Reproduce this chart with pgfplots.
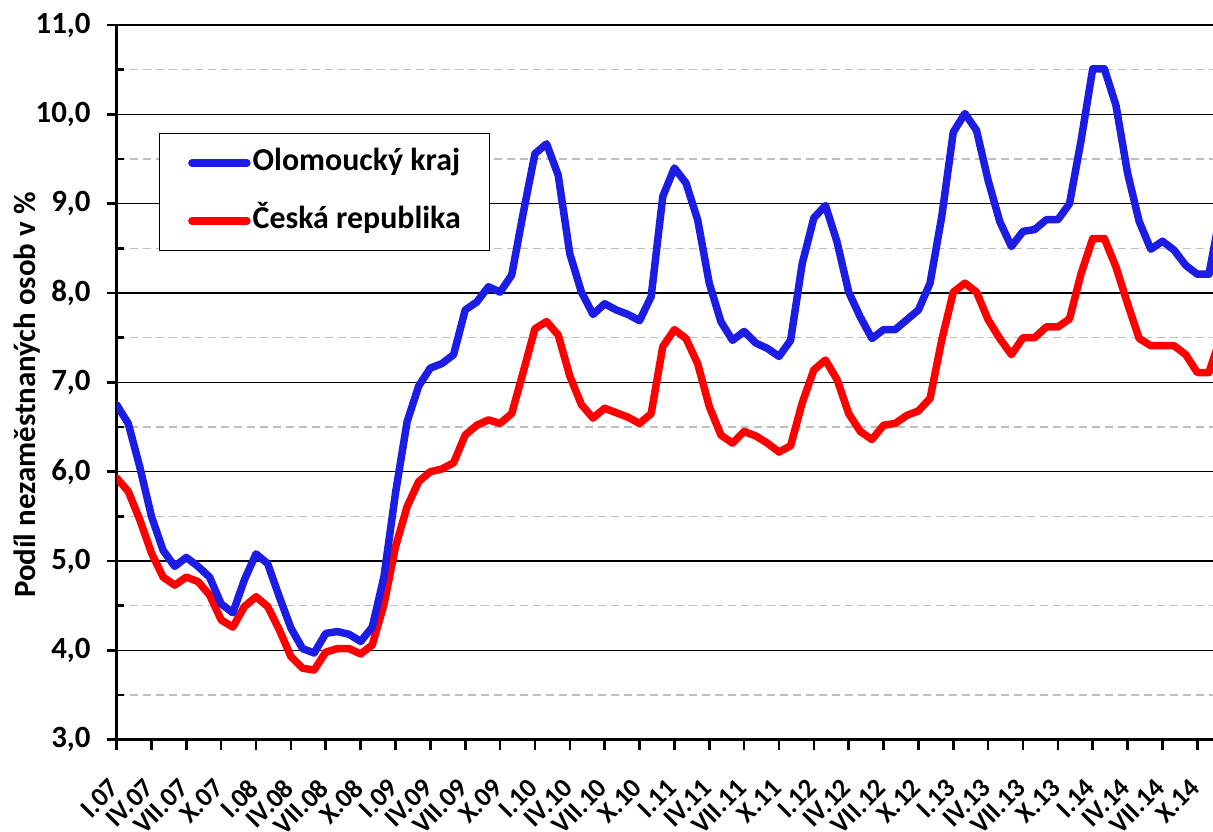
\documentclass[border=0pt]{standalone}
\usepackage{fontspec}
\setmainfont{Carlito}
\usepackage{pgfplots}
\usepackage{pgfplotstable}
\pgfplotsset{compat=1.18}
\definecolor{cblue}{RGB}{28,28,228}
\definecolor{cred}{RGB}{255,0,0}
\definecolor{cgrid}{RGB}{190,190,190}

\pgfplotstableread{
x o c
0 6.75 5.93
1 6.54 5.78
2 6.05 5.46
3 5.50 5.09
4 5.12 4.82
5 4.94 4.73
6 5.04 4.82
7 4.94 4.77
8 4.82 4.62
9 4.52 4.34
10 4.42 4.26
11 4.79 4.49
12 5.08 4.60
13 4.97 4.49
14 4.60 4.23
15 4.25 3.93
16 4.02 3.80
17 3.97 3.78
18 4.19 3.98
19 4.21 4.02
20 4.18 4.02
21 4.10 3.96
22 4.26 4.06
23 4.82 4.51
24 5.76 5.16
25 6.56 5.61
26 6.96 5.89
27 7.16 6.00
28 7.21 6.03
29 7.31 6.10
30 7.81 6.41
31 7.90 6.52
32 8.07 6.58
33 8.01 6.54
34 8.20 6.65
35 8.90 7.12
36 9.56 7.60
37 9.67 7.68
38 9.32 7.53
39 8.44 7.07
40 8.01 6.75
41 7.76 6.60
42 7.88 6.71
43 7.81 6.66
44 7.76 6.61
45 7.69 6.54
46 7.96 6.65
47 9.08 7.40
48 9.40 7.59
49 9.23 7.49
50 8.82 7.21
51 8.11 6.73
52 7.68 6.41
53 7.47 6.32
54 7.57 6.45
55 7.44 6.40
56 7.38 6.32
57 7.29 6.22
58 7.47 6.29
59 8.33 6.77
60 8.84 7.14
61 8.98 7.25
62 8.57 7.03
63 8.01 6.65
64 7.73 6.45
65 7.49 6.36
66 7.59 6.52
67 7.59 6.54
68 7.70 6.63
69 7.81 6.68
70 8.11 6.82
71 8.85 7.47
72 9.80 8.01
73 10.01 8.11
74 9.82 8.01
75 9.26 7.70
76 8.80 7.49
77 8.52 7.31
78 8.69 7.50
79 8.71 7.50
80 8.82 7.62
81 8.82 7.62
82 9.00 7.71
83 9.71 8.22
84 10.51 8.61
85 10.51 8.61
86 10.10 8.29
87 9.34 7.88
88 8.80 7.49
89 8.49 7.41
90 8.58 7.41
91 8.48 7.41
92 8.31 7.31
93 8.21 7.11
94 8.21 7.11
95 8.90 7.50
}\datatable

\begin{document}
\begin{tikzpicture}
\begin{axis}[
  scale only axis,
  width=548.2bp, height=357.35bp,
  xmin=0, xmax=94.35, ymin=3, ymax=11,
  axis lines=left,
  axis line style={-, line width=1.3bp, black},
  xtick={0,3,...,93},
  xticklabels={I.07,IV.07,VII.07,X.07,I.08,IV.08,VII.08,X.08,I.09,IV.09,VII.09,X.09,I.10,IV.10,VII.10,X.10,I.11,IV.11,VII.11,X.11,I.12,IV.12,VII.12,X.12,I.13,IV.13,VII.13,X.13,I.14,IV.14,VII.14,X.14},
  ytick={3,4,...,11},
  minor y tick num=1,
  ymajorgrids, yminorgrids,
  major grid style={black, line width=0.7bp},
  minor grid style={cgrid, line width=0.75bp, dash pattern=on 4bp off 2.5bp},
  tick align=outside,
  major tick length=5bp, minor tick length=3.5bp,
  tick style={black, line width=1.3bp},
  minor tick style={xshift=3.5bp},
  yticklabel style={font=\bfseries\fontsize{15.5}{18}\selectfont, xshift=-4.5bp,
    /pgf/number format/.cd, fixed, fixed zerofill, precision=1, use comma, assume math mode=true},
  xticklabel style={font=\bfseries\fontsize{13.5}{16}\selectfont, xshift=-4.3bp, yshift=-13.5bp, rotate=45, anchor=north east, inner sep=0pt},
  ylabel={Podíl nezaměstnaných osob v \%},
  ylabel style={font=\bfseries\fontsize{15.5}{18}\selectfont, at={(axis description cs:-0.082,0.482)}, anchor=center},
  legend style={at={(rel axis cs:0.0383,0.849)}, anchor=north west, draw=black, line width=0.6bp, fill=white,
    font=\bfseries\fontsize{16}{19}\selectfont, inner xsep=14.5bp, inner ysep=7.2bp, row sep=14bp,
    nodes={inner sep=0bp, text height=11.5bp, text depth=3.5bp},
    cells={anchor=west},
    /tikz/every odd column/.append style={column sep=1bp}},
  legend image code/.code={\path (0bp,0bp) -- (27.5bp,0bp); \draw[#1, line width=3.6bp, line cap=round] (1.8bp,0bp) -- (25.7bp,0bp);},
  reverse legend,
]
\addplot[cred, line width=3.75bp, line join=round, line cap=round] table[x=x, y=c] {\datatable};
\addlegendentry{Česká republika}
\addplot[cblue, line width=3.75bp, line join=round, line cap=round] table[x=x, y=o] {\datatable};
\addlegendentry{Olomoucký kraj}
\end{axis}
\pgfresetboundingbox
\path ([shift={(-58.3bp,-46.15bp)}]current axis.south west) rectangle ([shift={(0bp,12.5bp)}]current axis.north east);
\end{tikzpicture}
\end{document}
